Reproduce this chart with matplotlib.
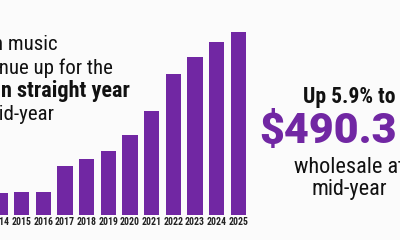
import numpy as np
import matplotlib
matplotlib.use('Agg')
import matplotlib.pyplot as plt
from matplotlib import font_manager

# bar data ($ millions, wholesale, mid-year)
years = ['2014', '2015', '2016', '2017', '2018', '2019',
         '2020', '2021', '2022', '2023', '2024', '2025']
revenue = [59, 62, 62, 131, 151, 173, 215, 279, 378, 425, 463, 490.3]

headline = ['n music', 'enue up for the', 'n straight year', 'mid-year']
callout = ['Up 5.9% to', '$490.3', 'wholesale at', 'mid-year']

PURPLE = '#7127a3'
INK = '#111111'
W, H = 400, 240

fonts = font_manager.fontManager.ttflist
names = {f.name for f in fonts}
NARROW = next((n for n in ['Liberation Sans Narrow', 'Roboto Condensed']
               if n in names), 'DejaVu Sans')

def weight_num(w):
    if isinstance(w, int):
        return w
    return font_manager.weight_dict.get(w, 400)

# heaviest face we can find for the big purple number
heavy = [f for f in fonts if f.name == 'Roboto' and weight_num(f.weight) >= 800]
if heavy:
    BIG_FAMILY, BIG_WEIGHT = 'Roboto', 900
else:
    BIG_FAMILY, BIG_WEIGHT = 'Liberation Sans', 'bold'

fig = plt.figure(figsize=(4, 2.4), dpi=100, facecolor='#fbfbfb')

def px(x, y):
    # pixel position (from top-left) -> figure fraction
    return x / W, 1 - y / H

# bar chart, axes spans full width; 215 px tall above baseline
ax = fig.add_axes([0, 25 / H, 1, 215 / H])
ax.set_facecolor('none')
x = np.arange(len(years))
ax.bar(x, revenue, width=0.71, color=PURPLE, zorder=2)
ax.axhline(0, color='#d6d6d6', lw=0.6, zorder=1)
ax.set_xlim(0.0667, 18.457)
ax.set_ylim(0, 577)
ax.set_xticks(x, years, fontsize=7, fontweight='bold', family=NARROW, color='#222222')
ax.tick_params(axis='x', length=0, pad=1.5)
ax.set_yticks([])
for s in ax.spines.values():
    s.set_visible(False)

# headline on the left (cut off at the image edge like the source)
right_edges = [58, 113, 130, 55]
baselines = [50.5, 73.5, 96.5, 119.5]
for i, line in enumerate(headline):
    bold = i == 2
    fig.text(*px(right_edges[i], baselines[i]), line, ha='right', va='baseline',
             fontsize=16 if bold else 15, fontweight='bold' if bold else 'normal',
             family=NARROW, color=INK)

# callout on the right
fig.text(*px(349, 103.3), callout[0], ha='center', va='baseline', fontsize=15.5,
         fontweight='bold', family=NARROW, color=INK)
fig.text(*px(259, 143.3), callout[1], ha='left', va='baseline', fontsize=31,
         fontweight=BIG_WEIGHT, family=BIG_FAMILY, color=PURPLE)
fig.text(*px(349, 173.3), callout[2], ha='center', va='baseline', fontsize=16,
         family=NARROW, color=INK)
fig.text(*px(349, 195), callout[3], ha='center', va='baseline', fontsize=16,
         family=NARROW, color=INK)

fig.savefig('out.png', dpi=100, facecolor=fig.get_facecolor())
